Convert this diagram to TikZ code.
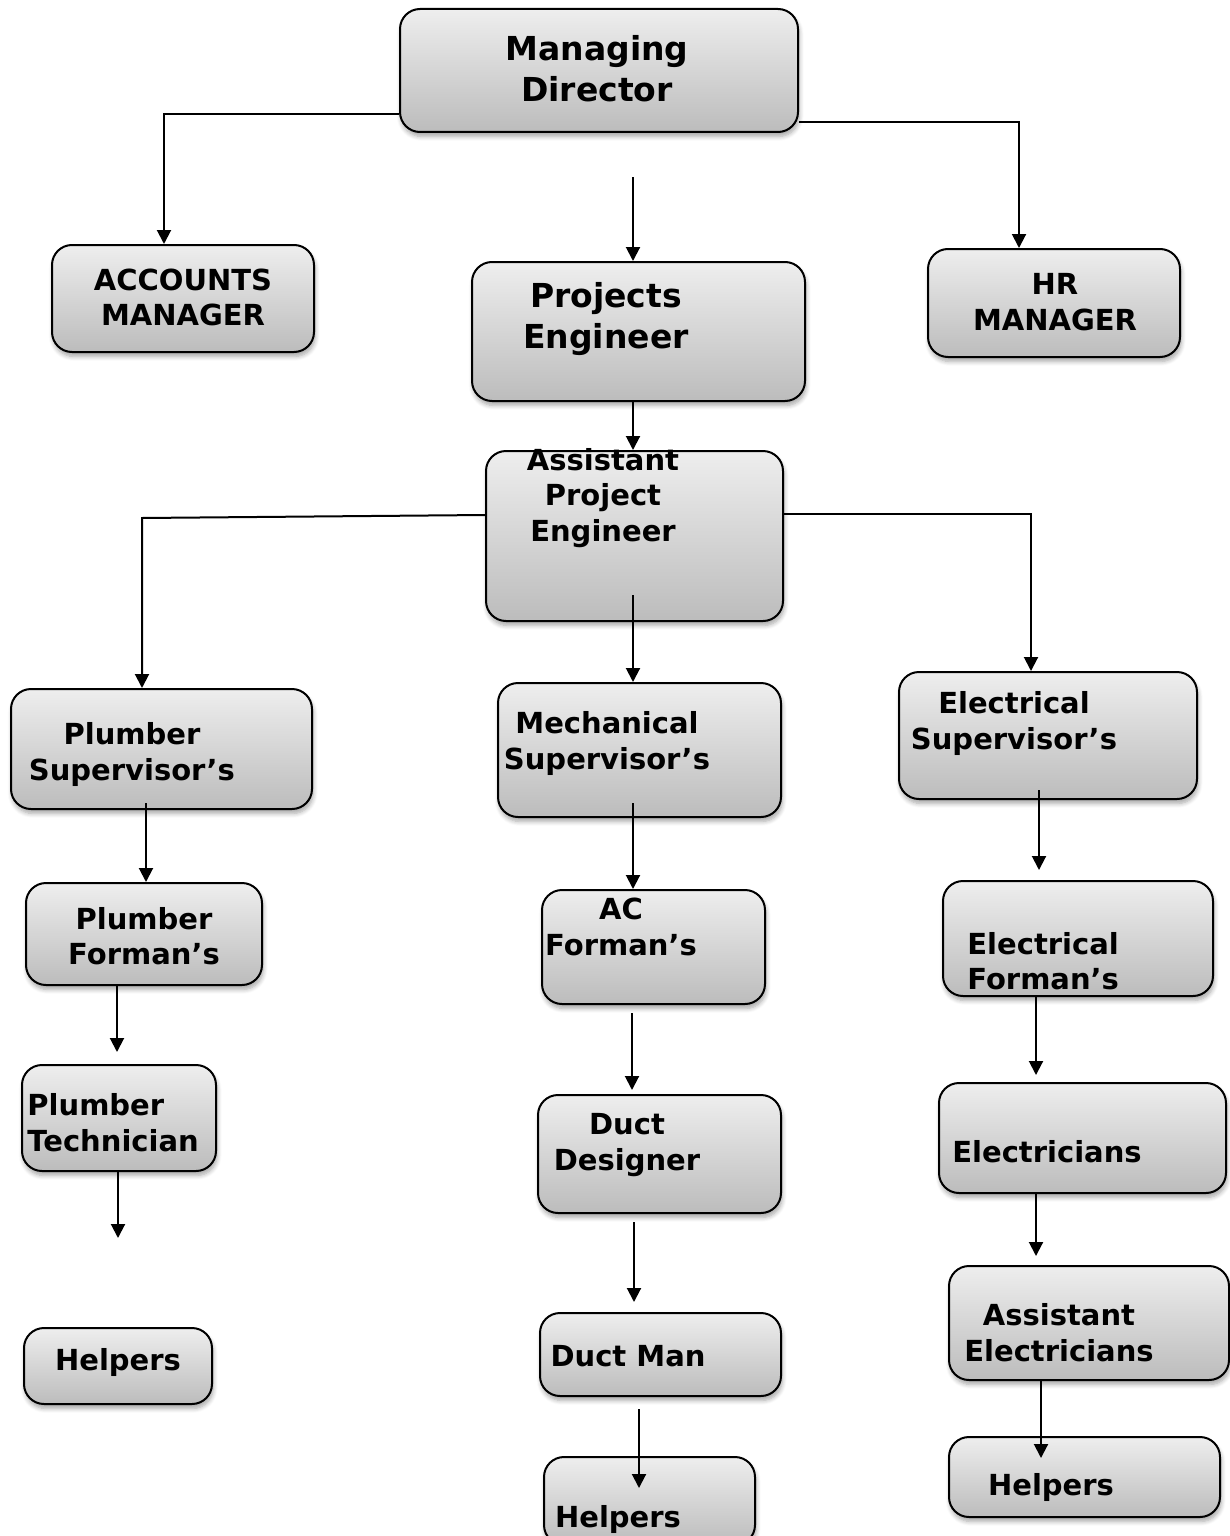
\documentclass[tikz,border=0pt]{standalone}
\usepackage{fontspec}
\setmainfont{DejaVu Sans}
\usetikzlibrary{arrows.meta,shadows.blur}
\definecolor{boxtop}{RGB}{238,238,238}
\definecolor{boxbot}{RGB}{188,188,188}
\tikzset{
  orgbox/.style={draw=black, line width=1pt, rounded corners=10pt, inner sep=0pt,
    top color=boxtop, bottom color=boxbot,
    blur shadow={shadow xshift=0.6pt, shadow yshift=-2.2pt, shadow blur steps=6, shadow opacity=35}},
  lbl/.style={inner sep=0pt, align=center, text=black, font=\fontsize{14.5}{17.75}\selectfont\bfseries},
  biglbl/.style={lbl, font=\fontsize{16.5}{20.75}\selectfont\bfseries},
  conn/.style={line width=1pt, draw=black},
  arr/.style={conn, -{Triangle[length=7pt,width=7pt]}}
}
\newcommand{\orgbox}[5]{\node[orgbox, minimum width={(#4-#2)*0.5pt}, minimum height={(#5-#3)*0.5pt}] (#1) at ({(#2+#4)/2},{(#3+#5)/2}) {};}
\begin{document}
\begin{tikzpicture}[x=0.5pt, y=-0.5pt]
\useasboundingbox (0,0) rectangle (1230,1536);
% boxes
\orgbox{md}{400}{9}{798}{132}
\orgbox{acc}{52}{245}{314}{352}
\orgbox{pe}{472}{262}{805}{401}
\orgbox{hr}{928}{249}{1180}{357}
\orgbox{ape}{486}{451}{783}{621}
\orgbox{psup}{11}{689}{312}{809}
\orgbox{msup}{498}{683}{781}{817}
\orgbox{esup}{899}{672}{1197}{799}
\orgbox{pfor}{26}{883}{262}{985}
\orgbox{acfor}{542}{890}{765}{1004}
\orgbox{efor}{943}{881}{1213}{996}
\orgbox{ptech}{22}{1065}{216}{1171}
\orgbox{dd}{538}{1095}{781}{1213}
\orgbox{elec}{939}{1083}{1226}{1193}
\orgbox{aelec}{949}{1266}{1229}{1380}
\orgbox{hlpa}{24}{1328}{212}{1404}
\orgbox{dman}{540}{1313}{781}{1396}
\orgbox{hlpb}{544}{1457}{755}{1545}
\orgbox{hlpc}{949}{1437}{1220}{1517}
% free connector ends
\coordinate (c1) at (633,177);
\coordinate (k1) at (142,518);
\coordinate (c2) at (633,595);
\coordinate (c3) at (146,803);
\coordinate (e1) at (117,1052);
\coordinate (e2) at (118,1238);
\coordinate (c4) at (633,803);
\coordinate (c5) at (632,1013);
\coordinate (e5) at (632,1090);
\coordinate (c6) at (634,1222);
\coordinate (e6) at (634,1302);
\coordinate (c7) at (639,1409);
\coordinate (e7) at (639,1488);
\coordinate (c8) at (1039,790);
\coordinate (e8) at (1039,870);
\coordinate (e9) at (1036,1075);
\coordinate (e10) at (1036,1256);
\coordinate (e11) at (1041,1458);
% connectors
\draw[arr] (md.west |- 0,114) -| (acc.north -| 164,0);
\draw[arr] (md.east |- 0,122) -| (hr.north -| 1019,0);
\draw[arr] (c1) -- (pe.north -| c1);
\draw[arr] (pe.south -| c1) -- (ape.north -| c1);
\draw[arr] (ape.west |- 0,515) -- (k1) -- (psup.north -| k1);
\draw[arr] (ape.east |- 0,514) -| (esup.north -| 1031,0);
\draw[arr] (c2) -- (msup.north -| c2);
\draw[arr] (c3) -- (pfor.north -| c3);
\draw[arr] (pfor.south -| e1) -- (e1);
\draw[arr] (ptech.south -| e2) -- (e2);
\draw[arr] (c4) -- (acfor.north -| c4);
\draw[arr] (c5) -- (e5);
\draw[arr] (c6) -- (e6);
\draw[arr] (c7) -- (e7);
\draw[arr] (c8) -- (e8);
\draw[arr] (efor.south -| e9) -- (e9);
\draw[arr] (elec.south -| e10) -- (e10);
\draw[arr] (aelec.south -| e11) -- (e11);
% labels
\node[biglbl] (tmd) at (597,68.5) {Managing\\Director};
\node[lbl] (tacc) at (183,297.5) {ACCOUNTS\\MANAGER};
\node[biglbl] (tpe) at (606,319) {Projects\\Engineer};
\node[lbl] (thr) at (1055,302) {HR\\MANAGER};
\node[lbl] (tape) at (603,498) {Assistant\\Project\\Engineer};
\node[lbl] (tpsup) at (132,754.5) {Plumber\\Supervisor’s};
\node[lbl] (tmsup) at (607,743.5) {Mechanical\\Supervisor’s};
\node[lbl] (tesup) at (1014,723.5) {Electrical\\Supervisor’s};
\node[lbl] (tpfor) at (144,936) {Plumber\\Forman’s};
\node[lbl] (tacfor) at (621,927) {AC\\Forman’s};
\node[lbl, align=left, anchor=west] (tefor) at (967,961) {Electrical\\Forman’s};
\node[lbl, align=left, anchor=west] (tptech) at (27,1122.5) {Plumber\\Technician};
\node[lbl] (tdd) at (627,1145) {Duct\\Designer};
\node[lbl] (telec) at (1047,1152) {Electricians};
\node[lbl] (taelec) at (1059,1332.5) {Assistant\\Electricians};
\node[lbl] (thlpa) at (118,1362) {Helpers};
\node[lbl] (tdman) at (628,1356) {Duct Man};
\node[lbl] (thlpb) at (618,1519) {Helpers};
\node[lbl] (thlpc) at (1051,1487) {Helpers};
\end{tikzpicture}
\end{document}
